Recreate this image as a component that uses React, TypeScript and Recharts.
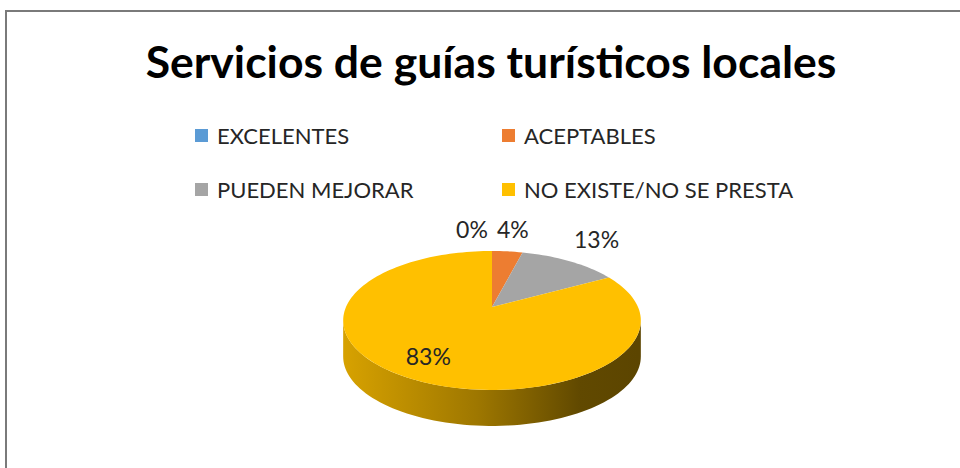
import React from "react";
import { PieChart, Pie, Legend } from "recharts";

const categories = ["EXCELENTES", "ACEPTABLES", "PUEDEN MEJORAR", "NO EXISTE/NO SE PRESTA"];
const shares = [0, 4, 13, 83];
const colors = ["#5B9BD5", "#ED7D31", "#A5A5A5", "#FFC000"];

const data = categories.map((name, i) => ({ name, value: shares[i], fill: colors[i] }));

const FONT = "Lato, 'Open Sans', sans-serif";
const TEXT = "#262626";

// fake 3d: squash + a bit of perspective, far edge smaller
const TILT = 0.458;
const PERSP = 0.194;
const DEPTH = 36;
const EDGE = (Math.asin(PERSP) * 180) / Math.PI;

function project(cx: number, cy: number, r: number, deg: number, rho = 1) {
  const t = (deg * Math.PI) / 180;
  const d = 1 + PERSP * rho * Math.sin(t);
  return [cx + (r * rho * Math.cos(t)) / d, cy - (r * TILT * rho * Math.sin(t)) / d];
}

function arc(cx: number, cy: number, r: number, from: number, to: number, dy = 0) {
  const n = Math.max(2, Math.ceil(Math.abs(to - from) / 2));
  const pts: string[] = [];
  for (let i = 0; i <= n; i++) {
    const [x, y] = project(cx, cy, r, from + ((to - from) * i) / n);
    pts.push(`${x.toFixed(2)},${(y + dy).toFixed(2)}`);
  }
  return pts;
}

function shade(hex: string, f: number) {
  const n = parseInt(hex.slice(1), 16);
  const c = [(n >> 16) & 255, (n >> 8) & 255, n & 255].map((v) => Math.round(v * f));
  return `rgb(${c.join(",")})`;
}

function Slice3D(props: any) {
  const { cx, cy, outerRadius, startAngle, endAngle, fill } = props;
  if (Math.abs(endAngle - startAngle) < 0.01) return <g />;
  const lo = Math.min(startAngle, endAngle);
  const hi = Math.max(startAngle, endAngle);

  // front (visible) part of the rim
  const sides: string[][] = [];
  for (let k = -2; k <= 1; k++) {
    const a = Math.max(lo, -180 + EDGE + 360 * k);
    const b = Math.min(hi, -EDGE + 360 * k);
    if (b > a) sides.push([...arc(cx, cy, outerRadius, a, b), ...arc(cx, cy, outerRadius, b, a, DEPTH)]);
  }
  const gid = `side-${String(fill).replace("#", "")}`;
  const top = [`${cx},${cy}`, ...arc(cx, cy, outerRadius, startAngle, endAngle)];

  return (
    <g>
      <defs>
        <linearGradient id={gid} gradientUnits="userSpaceOnUse" x1={cx - outerRadius} x2={cx + outerRadius} y1={0} y2={0}>
          <stop offset="0%" stopColor={shade(fill, 0.84)} />
          <stop offset="45%" stopColor={shade(fill, 0.62)} />
          <stop offset="80%" stopColor={shade(fill, 0.38)} />
          <stop offset="100%" stopColor={shade(fill, 0.36)} />
        </linearGradient>
      </defs>
      {sides.map((p, i) => (
        <polygon key={i} points={p.join(" ")} fill={`url(#${gid})`} />
      ))}
      <polygon points={top.join(" ")} fill={fill} />
    </g>
  );
}

function renderLabel(props: any) {
  const { cx, cy, midAngle, outerRadius, percent } = props;
  let x: number, y: number;
  if (percent > 0.5) {
    [x, y] = project(cx, cy, outerRadius, midAngle, 0.75);
  } else {
    const [rx, ry] = project(cx, cy, outerRadius, midAngle);
    x = rx + Math.cos((midAngle * Math.PI) / 180) * 44;
    y = ry - 22;
    if (percent === 0) x -= 20; // excel pushes the empty slice label aside
  }
  return (
    <text x={x} y={y} textAnchor="middle" dominantBaseline="central" fill={TEXT} fontSize={23} fontFamily={FONT}>
      {`${Math.round(percent * 100)}%`}
    </text>
  );
}

const colX = [195, 502];
const rowY = [135, 189];

function LegendGrid({ payload }: any) {
  const items = [...(payload || [])].sort(
    (a: any, b: any) => categories.indexOf(a.value) - categories.indexOf(b.value)
  );
  return (
    <div style={{ position: "relative", width: 960, height: 468 }}>
      {items.map((p: any, i: number) => (
        <div
          key={p.value}
          style={{
            position: "absolute",
            left: colX[i % 2],
            top: rowY[Math.floor(i / 2)] - 15,
            height: 30,
            display: "flex",
            alignItems: "center",
            gap: 9,
            whiteSpace: "nowrap",
          }}
        >
          <span style={{ width: 13, height: 13, background: p.color, display: "inline-block" }} />
          <span style={{ fontFamily: FONT, fontSize: 22, color: TEXT }}>{p.value}</span>
        </div>
      ))}
    </div>
  );
}

export default function App() {
  return (
    <div style={{ position: "fixed", left: 0, top: 0, width: 960, height: 468, background: "#fff", overflow: "hidden" }}>
      <div
        style={{
          position: "absolute",
          left: 5,
          top: 10,
          width: 1000,
          height: 1000,
          borderLeft: "2px solid #7a7a7a",
          borderTop: "2px solid #7a7a7a",
        }}
      />
      <svg width={960} height={100} style={{ position: "absolute", left: 0, top: 0 }}>
        <text x={491} y={78} textAnchor="middle" fontFamily={FONT} fontWeight="bold" fontSize={44.5} fill="#000">
          Servicios de guías turísticos locales
        </text>
      </svg>
      <div style={{ position: "absolute", left: 0, top: 0 }}>
        <PieChart width={960} height={468} margin={{ top: 0, right: 0, bottom: 0, left: 0 }}>
          <Legend
            content={<LegendGrid />}
            wrapperStyle={{ left: 0, top: 0, width: 960, height: 468, pointerEvents: "none" }}
          />
          <Pie
            data={data}
            dataKey="value"
            nameKey="name"
            cx={492}
            cy={307}
            outerRadius={146}
            startAngle={90}
            endAngle={-270}
            shape={Slice3D}
            label={renderLabel}
            labelLine={false}
            isAnimationActive={false}
          />
        </PieChart>
      </div>
    </div>
  );
}
